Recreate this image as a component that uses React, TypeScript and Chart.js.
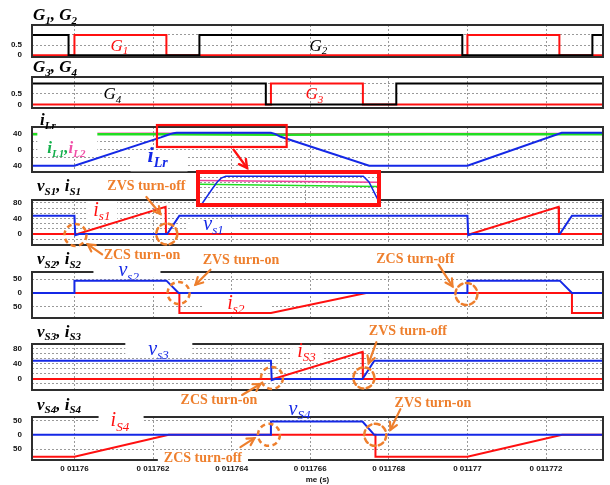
import React, { useEffect, useRef } from 'react';
import { Chart, registerables } from 'chart.js';

Chart.register(...registerables);

type Pt = [number, number];
type Part = [string, string, string?];

// ---------- time axis (values in µs; the axis reads seconds: 0.01176 s = 11760 µs) ----------
const tStart = 11758.92;
const tEnd = 11773.45;
const timeTicks = [11760, 11762, 11764, 11766, 11768, 11770, 11772];
const timeTickLabels = ['0 01176', '0 011762', '0 011764', '0 011766', '0 011768', '0 01177', '0 011772'];
const timeAxisTitle = 'me (s)';

// ---------- gate signals ----------
const G1: Pt[] = [[tStart, 0], [11760, 0], [11760, 1], [11762.34, 1], [11762.34, 0], [11770, 0], [11770, 1], [11772.34, 1], [11772.34, 0], [tEnd, 0]];
const G2: Pt[] = [[tStart, 1], [11759.85, 1], [11759.85, 0], [11763.18, 0], [11763.18, 1], [11769.87, 1], [11769.87, 0], [11773.18, 0], [11773.18, 1], [tEnd, 1]];
const G3: Pt[] = [[tStart, 0], [11765, 0], [11765, 1], [11767.34, 1], [11767.34, 0], [tEnd, 0]];
const G4: Pt[] = [[tStart, 1], [11764.87, 1], [11764.87, 0], [11768.19, 0], [11768.19, 1], [tEnd, 1]];
const gateTicks = [0, 0.5, 1];
const gateTickLabels = ['0', '0.5', ''];

// ---------- inductor currents ----------
const iLr: Pt[] = [[tStart, -41], [11760, -41], [11762.2, 31.5], [11762.35, 37], [11762.45, 40.5], [11762.52, 42.2], [11762.6, 43], [11765, 43], [11765.1, 40.5], [11765.25, 33], [11767.5, -41], [11770, -41], [11772.4, 43], [tEnd, 43]];
const iL1: Pt[] = [[tStart, 39.5], [11762.15, 39.5], [11765.25, 38.5], [11769, 39.2], [tEnd, 39.5]];
const iL2: Pt[] = [[tStart, 41], [11762.15, 41.1], [11765.25, 40.4], [11769, 40.8], [tEnd, 41]];
const iTicks = [-40, -20, 0, 20, 40];
const iTickLabels = ['40', '', '0', '', '40'];
const zoomTicks = [33.5, 35.7, 37.9, 40.1, 42.3];

// ---------- switch voltages / currents ----------
const vS1: Pt[] = [[tStart, 47], [11760, 47], [11760.02, -3], [11760.12, 0], [11762.36, 0], [11762.67, 47], [11770, 47], [11770.02, -3], [11770.12, 0], [11772.35, 0], [11772.66, 47], [tEnd, 47]];
const iS1: Pt[] = [[tStart, 0], [11760.08, 0], [11762.32, 70], [11762.33, 0], [11770.08, 0], [11772.32, 70], [11772.33, 0], [tEnd, 0]];
const vS2: Pt[] = [[tStart, 0], [11760, 0], [11760, 45], [11762.34, 45], [11762.65, 0], [11770, 0], [11770, 45], [11772.35, 45], [11772.66, 0], [tEnd, 0]];
const iS2: Pt[] = [[tStart, 0], [11762.67, 0], [11762.67, -73], [11765, -73], [11767.42, 0], [11772.66, 0], [11772.66, -73], [tEnd, -73]];
const vS3: Pt[] = [[tStart, 48], [11765, 48], [11765.02, -3], [11765.1, 0], [11767.33, 0], [11767.63, 48], [tEnd, 48]];
const iS3: Pt[] = [[tStart, 0], [11765.06, 0], [11767.33, 72], [11767.34, 0], [tEnd, 0]];
const vS4: Pt[] = [[tStart, 0], [11765, 0], [11765, 46], [11767.33, 46], [11767.63, 0], [tEnd, 0]];
const iS4: Pt[] = [[tStart, -76], [11760, -76], [11762.4, 0], [11767.66, 0], [11767.66, -76], [11770, -76], [11772.41, 0], [tEnd, 0]];
const v80Ticks = [-26.67, -13.33, 0, 13.33, 26.67, 40, 53.33, 66.67, 80];
const v80TickLabels = ['', '', '0', '', '', '40', '', '', '80'];
const v50Ticks = [-50, 0, 50];
const v50TickLabels = ['50', '0', '50'];

// ---------- colours ----------
const BLUE = '#1428E6';
const RED = '#FF1010';
const BLACK = '#000000';
const GREEN = '#22DD22';
const PINK = '#F0409A';
const GREEN_T = '#14B04C';
const PINK_T = '#F050A8';
const ORANGE = '#EE7F2D';
const GRID = '#9a9a9a';
const FRAME = '#2e2e2e';

interface Series { data: Pt[]; color: string; width: number }
interface Label { parts: Part[]; t: number; v: number; size: number; bold: boolean; color: string; bg?: [number, number, number, number] }
interface Note { text: string; t: number; v: number; circle: [number, number, number]; at: [number, number]; arrow: [number, number, number, number]; bg?: boolean }
interface Panel {
  box: [number, number, number, number];
  yAxisWidth: number;
  xAxisHeight: number;
  tRange: [number, number];
  yRange: [number, number];
  yTicks: number[];
  yTickLabels: string[];
  showXLabels: boolean;
  title: Part[];
  titlePos: [number, number];
  series: Series[];
  labels: Label[];
  notes: Note[];
  zoomMark?: { t: [number, number]; v: [number, number]; arrowAt: [number, number]; arrow: [number, number, number, number] };
  inset?: boolean;
}

const L = 32, R = 603;

const panels: Panel[] = [
  {
    box: [L, 25, R, 57], yAxisWidth: 32, xAxisHeight: 0, tRange: [tStart, tEnd], yRange: [-0.09, 1.49],
    yTicks: gateTicks, yTickLabels: gateTickLabels, showXLabels: false,
    title: [['G', '1'], [', ', ''], ['G', '2']], titlePos: [1, 5],
    series: [{ data: G2, color: BLACK, width: 2 }, { data: G1, color: RED, width: 2 }],
    labels: [
      { parts: [['G', '1']], t: 11760.92, v: 0.23, size: 17, bold: false, color: RED },
      { parts: [['G', '2']], t: 11765.98, v: 0.23, size: 17, bold: false, color: BLACK },
    ],
    notes: [],
  },
  {
    box: [L, 77, R, 108], yAxisWidth: 32, xAxisHeight: 0, tRange: [tStart, tEnd], yRange: [-0.17, 1.31],
    yTicks: gateTicks, yTickLabels: gateTickLabels, showXLabels: false,
    title: [['G', '3'], [', ', ''], ['G', '4']], titlePos: [1, 5],
    series: [{ data: G4, color: BLACK, width: 2 }, { data: G3, color: RED, width: 2 }],
    labels: [
      { parts: [['G', '4']], t: 11760.74, v: 0.25, size: 17, bold: false, color: BLACK },
      { parts: [['G', '3']], t: 11765.88, v: 0.25, size: 17, bold: false, color: RED },
    ],
    notes: [],
  },
  {
    box: [L, 127, R, 172], yAxisWidth: 32, xAxisHeight: 0, tRange: [tStart, tEnd], yRange: [-57, 58],
    yTicks: iTicks, yTickLabels: iTickLabels, showXLabels: false,
    title: [['i', 'Lr']], titlePos: [8, 2],
    series: [{ data: iLr, color: BLUE, width: 2 }, { data: iL1, color: GREEN, width: 2.5 }, { data: iL2, color: PINK, width: 2 }],
    labels: [
      { parts: [['i', 'L1', GREEN_T], [',', '', GREEN_T], ['i', 'L2', PINK_T]], t: 11759.31, v: -8.4, size: 17, bold: true, color: GREEN_T, bg: [-10, -24, 50, 4] },
      { parts: [['i', 'Lr']], t: 11761.86, v: -32.3, size: 22, bold: true, color: BLUE, bg: [-17, -12, 40, 9] },
    ],
    notes: [],
    zoomMark: { t: [11762.1, 11765.4], v: [7, 63], arrowAt: [11764.05, 7], arrow: [0, 2.7, 13.5, 21] },
  },
  {
    box: [L, 200, R, 245], yAxisWidth: 32, xAxisHeight: 0, tRange: [tStart, tEnd], yRange: [-28.4, 87.7],
    yTicks: v80Ticks, yTickLabels: v80TickLabels, showXLabels: false,
    title: [['v', 'S1'], [', ', ''], ['i', 'S1']], titlePos: [5, 9],
    series: [{ data: vS1, color: BLUE, width: 2 }, { data: iS1, color: RED, width: 2 }],
    labels: [
      { parts: [['i', 's1']], t: 11760.48, v: 46.5, size: 20, bold: false, color: RED, bg: [-6, -15, 24, 5] },
      { parts: [['v', 's1']], t: 11763.28, v: 10.3, size: 20, bold: false, color: BLUE, bg: [-16, -11, 37, 1] },
    ],
    notes: [
      { text: 'ZCS turn-on', t: 11760, v: 0, circle: [1, 1, 11], at: [67.5, 25], arrow: [27.7, 20.3, 13.3, 10.3] },
      { text: 'ZVS turn-off', t: 11762.35, v: 0, circle: [0, 0, 10.5], at: [-20.4, -44], arrow: [-20.4, -37, -6.4, -20] },
    ],
  },
  {
    box: [200, 174, 377, 203], yAxisWidth: 0, xAxisHeight: 0, tRange: [11762.15, 11765.24], yRange: [31.3, 44],
    yTicks: zoomTicks, yTickLabels: zoomTicks.map(() => ''), showXLabels: false,
    title: [], titlePos: [0, 0],
    series: [{ data: iLr, color: BLUE, width: 1.5 }, { data: iL2, color: PINK, width: 1.5 }, { data: iL1, color: GREEN, width: 1.5 }],
    labels: [], notes: [], inset: true,
  },
  {
    box: [L, 272, R, 318], yAxisWidth: 32, xAxisHeight: 0, tRange: [tStart, tEnd], yRange: [-91.2, 76.6],
    yTicks: v50Ticks, yTickLabels: v50TickLabels, showXLabels: false,
    title: [['v', 'S2'], [', ', ''], ['i', 'S2']], titlePos: [5, 8],
    series: [{ data: vS2, color: BLUE, width: 2 }, { data: iS2, color: RED, width: 2 }],
    labels: [
      { parts: [['v', 's2']], t: 11761.12, v: 60.6, size: 20, bold: false, color: BLUE, bg: [-25, -12.7, 42, 1.3] },
      { parts: [['i', 's2']], t: 11763.89, v: -57, size: 20, bold: false, color: RED, bg: [-24, -13, 43, 2] },
    ],
    notes: [
      { text: 'ZVS turn-on', t: 11762.65, v: 0, circle: [0, 0, 11], at: [62.4, -29], arrow: [31.9, -23.3, 16.9, -8.3] },
      { text: 'ZCS turn-off', t: 11770, v: 0, circle: [-1, 1, 11], at: [-52.1, -30.3], arrow: [-28.9, -28.3, -14.9, -6.6] },
    ],
  },
  {
    box: [L, 344, R, 390], yAxisWidth: 32, xAxisHeight: 0, tRange: [tStart, tEnd], yRange: [-29.3, 92.5],
    yTicks: v80Ticks, yTickLabels: v80TickLabels, showXLabels: false,
    title: [['v', 'S3'], [', ', ''], ['i', 'S3']], titlePos: [5, 7.5],
    series: [{ data: vS3, color: BLUE, width: 2 }, { data: iS3, color: RED, width: 2 }],
    labels: [
      { parts: [['v', 's3']], t: 11761.88, v: 64, size: 20, bold: false, color: BLUE, bg: [-23, -16, 44, 3] },
      { parts: [['i', 'S3']], t: 11765.67, v: 58.7, size: 20, bold: false, color: RED, bg: [-5, -11, 25, 4] },
    ],
    notes: [
      { text: 'ZCS turn-on', t: 11765, v: 0, circle: [1, -1, 11], at: [-52, 25.5], arrow: [-28.8, 16, -10.5, 5] },
      { text: 'ZVS turn-off', t: 11767.34, v: 0, circle: [1, -1, 10.5], at: [45, -43.5], arrow: [13.5, -36.7, 5.8, -15.7] },
    ],
  },
  {
    box: [L, 417, R, 460], yAxisWidth: 32, xAxisHeight: 25, tRange: [tStart, tEnd], yRange: [-87.4, 61.9],
    yTicks: v50Ticks, yTickLabels: v50TickLabels, showXLabels: true,
    title: [['v', 'S4'], [', ', ''], ['i', 'S4']], titlePos: [5, 7.5],
    series: [{ data: vS4, color: BLUE, width: 2 }, { data: iS4, color: RED, width: 2 }],
    labels: [
      { parts: [['i', 'S4']], t: 11760.92, v: 29, size: 20, bold: false, color: RED, bg: [-12, -17, 33, 2] },
      { parts: [['v', 'S4']], t: 11765.45, v: 70, size: 20, bold: false, color: BLUE },
    ],
    notes: [
      { text: 'ZCS turn-off', t: 11765, v: 0, circle: [-2, 0, 11], at: [-68, 27], arrow: [-30.5, 12.3, -16.5, 3.3], bg: true },
      { text: 'ZVS turn-on', t: 11767.63, v: 0, circle: [1, 0, 11], at: [58.6, -28], arrow: [26.1, -25.7, 16.1, -5] },
    ],
  },
];

function drawRich(ctx: CanvasRenderingContext2D, x: number, y: number, parts: Part[], size: number, bold: boolean, color: string) {
  const w = bold ? 'bold ' : '';
  const sub = Math.round(size * 0.65);
  let cx = x;
  ctx.textAlign = 'left';
  ctx.textBaseline = 'alphabetic';
  for (const [main, s, c] of parts) {
    ctx.fillStyle = c || color;
    if (main) {
      ctx.font = `italic ${w}${size}px "Liberation Serif"`;
      ctx.fillText(main, cx, y);
      cx += ctx.measureText(main).width;
    }
    if (s) {
      ctx.font = `italic ${w}${sub}px "Liberation Serif"`;
      ctx.fillText(s, cx, y + size * 0.22);
      cx += ctx.measureText(s).width;
    }
  }
}

function drawArrow(ctx: CanvasRenderingContext2D, x0: number, y0: number, x1: number, y1: number, color: string, width: number, head: number) {
  ctx.strokeStyle = color;
  ctx.lineWidth = width;
  ctx.setLineDash([]);
  ctx.lineCap = 'round';
  ctx.beginPath();
  ctx.moveTo(x0, y0);
  ctx.lineTo(x1, y1);
  ctx.stroke();
  const a = Math.atan2(y1 - y0, x1 - x0);
  ctx.beginPath();
  ctx.moveTo(x1 - head * Math.cos(a - 0.5), y1 - head * Math.sin(a - 0.5));
  ctx.lineTo(x1, y1);
  ctx.lineTo(x1 - head * Math.cos(a + 0.5), y1 - head * Math.sin(a + 0.5));
  ctx.stroke();
}

function decorate(chart: any, p: Panel) {
  const ctx: CanvasRenderingContext2D = chart.ctx;
  const { left, right, top, bottom } = chart.chartArea;
  const xs = chart.scales.x;
  const ys = chart.scales.y;
  ctx.save();
  if (p.inset) {
    ctx.strokeStyle = RED;
    ctx.lineWidth = 4;
    ctx.strokeRect(left - 2, top - 2, right - left + 4, bottom - top + 4);
    ctx.restore();
    return;
  }
  ctx.strokeStyle = FRAME;
  ctx.lineWidth = 2;
  ctx.strokeRect(left, top, right - left, bottom - top);
  drawRich(ctx, left + p.titlePos[0], top - p.titlePos[1], p.title, 17, true, BLACK);
  for (const lb of p.labels) {
    if (!lb.bg) continue;
    const x = xs.getPixelForValue(lb.t);
    const y = ys.getPixelForValue(lb.v);
    ctx.fillStyle = '#ffffff';
    ctx.fillRect(x + lb.bg[0], y + lb.bg[1], lb.bg[2] - lb.bg[0], lb.bg[3] - lb.bg[1]);
  }
  for (const lb of p.labels) {
    drawRich(ctx, xs.getPixelForValue(lb.t), ys.getPixelForValue(lb.v), lb.parts, lb.size, lb.bold, lb.color);
  }
  if (p.zoomMark) {
    const z = p.zoomMark;
    const x0 = xs.getPixelForValue(z.t[0]);
    const x1 = xs.getPixelForValue(z.t[1]);
    const y0 = ys.getPixelForValue(z.v[1]);
    const y1 = ys.getPixelForValue(z.v[0]);
    ctx.strokeStyle = RED;
    ctx.lineWidth = 2.2;
    ctx.strokeRect(x0, y0, x1 - x0, y1 - y0);
    const ax = xs.getPixelForValue(z.arrowAt[0]);
    const ay = ys.getPixelForValue(z.arrowAt[1]);
    drawArrow(ctx, ax + z.arrow[0], ay + z.arrow[1], ax + z.arrow[2], ay + z.arrow[3], RED, 2.4, 9);
  }
  for (const n of p.notes) {
    const ax = xs.getPixelForValue(n.t);
    const ay = ys.getPixelForValue(n.v);
    ctx.font = 'bold 14px "Liberation Serif"';
    ctx.textAlign = 'center';
    ctx.textBaseline = 'alphabetic';
    const tx = ax + n.at[0];
    const ty = ay + n.at[1];
    if (n.bg) {
      const w = ctx.measureText(n.text).width;
      ctx.fillStyle = '#ffffff';
      ctx.fillRect(tx - w / 2 - 6, ty - 11, w + 12, 15);
    }
    ctx.fillStyle = ORANGE;
    ctx.fillText(n.text, tx, ty);
    ctx.strokeStyle = ORANGE;
    ctx.lineWidth = 2.5;
    ctx.setLineDash([5, 3.5]);
    ctx.beginPath();
    ctx.arc(ax + n.circle[0], ay + n.circle[1], n.circle[2], 0, Math.PI * 2);
    ctx.stroke();
    ctx.setLineDash([]);
    drawArrow(ctx, ax + n.arrow[0], ay + n.arrow[1], ax + n.arrow[2], ay + n.arrow[3], ORANGE, 2.2, 8);
  }
  if (p.showXLabels) {
    ctx.font = 'bold 8px "Liberation Sans"';
    ctx.fillStyle = '#111';
    ctx.textAlign = 'center';
    ctx.textBaseline = 'alphabetic';
    ctx.fillText(timeAxisTitle, (left + right) / 2, bottom + 22);
  }
  ctx.restore();
}

function makeChart(canvas: HTMLCanvasElement, p: Panel) {
  const tickFont = { family: 'Liberation Sans', size: 8, weight: 'bold' as const };
  const plugin = {
    id: 'deco',
    beforeDraw(chart: any) {
      if (!p.inset) return;
      const { left, right, top, bottom } = chart.chartArea;
      const c = chart.ctx;
      c.save();
      c.fillStyle = '#ffffff';
      c.fillRect(left - 4, top - 4, right - left + 8, bottom - top + 8);
      c.restore();
    },
    afterDraw(chart: any) { decorate(chart, p); },
  };
  return new Chart(canvas, {
    type: 'line',
    data: {
      datasets: p.series.map((s) => ({
        data: s.data.map(([x, y]) => ({ x, y })),
        borderColor: s.color,
        borderWidth: s.width,
        pointRadius: 0,
        tension: 0,
        fill: false,
      })),
    },
    options: {
      responsive: false,
      animation: false,
      devicePixelRatio: 1,
      events: [],
      layout: {
        padding: {
          left: p.box[0] - p.yAxisWidth,
          top: p.box[1],
          right: 610 - p.box[2],
          bottom: 485 - p.box[3] - p.xAxisHeight,
        },
      },
      plugins: { legend: { display: false }, tooltip: { enabled: false }, title: { display: false } },
      scales: {
        x: {
          type: 'linear',
          min: p.tRange[0],
          max: p.tRange[1],
          afterBuildTicks: (s: any) => {
            s.ticks = timeTicks.filter((v) => v >= p.tRange[0] && v <= p.tRange[1]).map((v) => ({ value: v }));
          },
          afterFit: (s: any) => { s.height = p.xAxisHeight; },
          grid: { color: GRID, lineWidth: 1, drawTicks: false },
          border: { display: false, dash: [2, 2] },
          ticks: {
            display: p.showXLabels,
            autoSkip: false,
            maxRotation: 0,
            padding: 4,
            color: '#111',
            font: tickFont,
            callback: (v: any) => {
              const k = timeTicks.indexOf(Number(v));
              return k >= 0 ? timeTickLabels[k] : '';
            },
          },
        },
        y: {
          type: 'linear',
          min: p.yRange[0],
          max: p.yRange[1],
          afterBuildTicks: (s: any) => { s.ticks = p.yTicks.map((v) => ({ value: v })); },
          afterFit: (s: any) => { s.width = p.yAxisWidth; },
          grid: { color: GRID, lineWidth: 1, drawTicks: false },
          border: { display: false, dash: [2, 2] },
          ticks: {
            display: !p.inset,
            autoSkip: false,
            padding: 10,
            color: '#111',
            font: tickFont,
            callback: (_v: any, i: number) => p.yTickLabels[i] ?? '',
          },
        },
      },
    },
    plugins: [plugin],
  } as any);
}

export default function App() {
  const refs = useRef<(HTMLCanvasElement | null)[]>([]);
  useEffect(() => {
    document.body.style.margin = '0';
    const charts = panels.map((p, i) => makeChart(refs.current[i] as HTMLCanvasElement, p));
    return () => charts.forEach((c) => c.destroy());
  }, []);
  return (
    <div style={{ position: 'relative', width: 610, height: 485, background: '#ffffff', overflow: 'hidden' }}>
      {panels.map((_, i) => (
        <canvas
          key={i}
          ref={(el) => { refs.current[i] = el; }}
          width={610}
          height={485}
          style={{ position: 'absolute', left: 0, top: 0, width: 610, height: 485 }}
        />
      ))}
    </div>
  );
}
